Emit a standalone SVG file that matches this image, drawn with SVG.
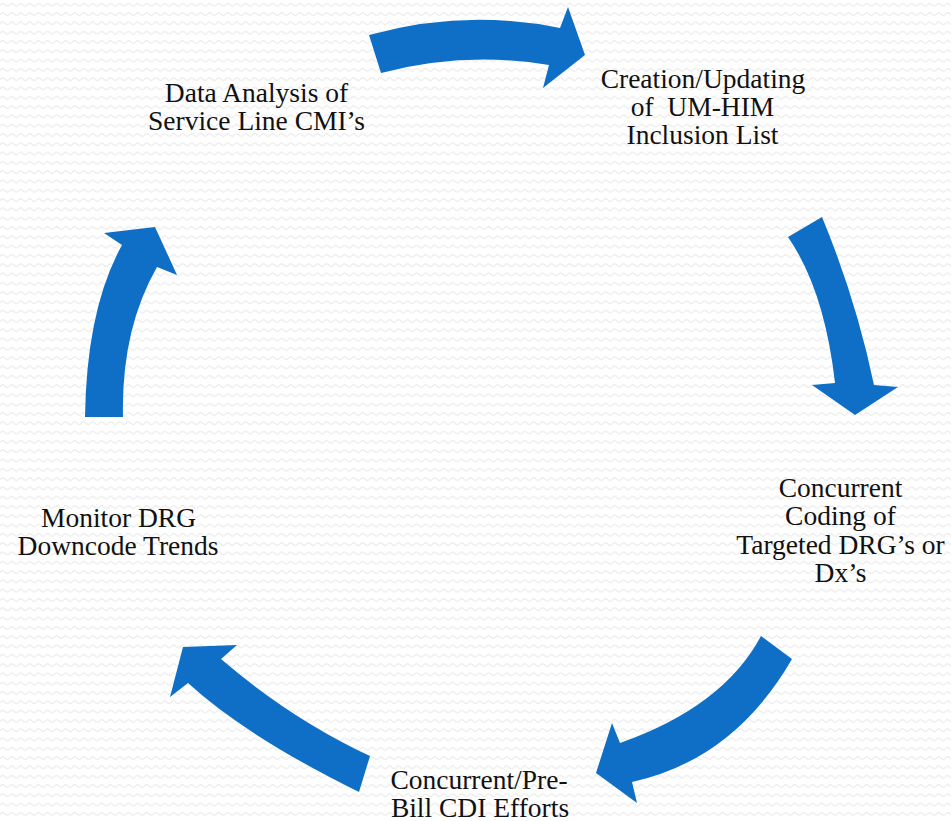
<svg xmlns="http://www.w3.org/2000/svg" width="951" height="821" viewBox="0 0 951 821">
  <defs>
    <pattern id="zig" x="0" y="0" width="9" height="9.3" patternUnits="userSpaceOnUse">
      <path d="M0,5.5 Q2.25,2 4.5,4.5 Q6.75,7 9,5.5" fill="none" stroke="#ededed" stroke-width="1.3"/>
    </pattern>
    <style>
      .arrow { fill: #0F6FC6; stroke: none; }
      .label { font-family: "Liberation Serif", "Times New Roman", serif; font-size: 27.5px; fill: #111111; text-anchor: middle; }
    </style>
  </defs>
  <rect x="0" y="0" width="951" height="821" fill="#ffffff"/>
  <rect x="0" y="0" width="951" height="821" fill="url(#zig)"/>

  <g id="connectors">
    <path id="arrow-top" class="arrow" d="M369,35 Q465,8.5 560,28 L568,7 L585,55 L543,88 L549,65 Q465,51 381,73 Z"/>
    <path id="arrow-right" class="arrow" d="M788,237 L822,217 Q856,299 874,385 L898,387 L855,415 L812,385 L835,383 Q824.5,290 788,237 Z"/>
    <path id="arrow-bottom-right" class="arrow" d="M761,636 L792,659 Q734,759.5 632,782 L637,803 L596,773 L612,723 L620,743 Q723.5,706.5 761,636 Z"/>
    <path id="arrow-bottom-left" class="arrow" d="M370,756 Q291,719 221,659 L237,645 L183,647 L170,697 L188,683 Q246.5,736.5 359,792 Z"/>
    <path id="arrow-left" class="arrow" d="M85,417 Q86.5,309 122,245 L104,233 L155,227 L177,275 L157,267 Q121,330 123,417 Z"/>
  </g>

  <g id="node-data-analysis">
    <text class="label" x="256.5" y="101.5">Data Analysis of</text>
    <text class="label" x="256.5" y="129.5">Service Line CMI’s</text>
  </g>
  <g id="node-creation">
    <text class="label" x="703" y="88">Creation/Updating</text>
    <text class="label" x="702.5" y="116" xml:space="preserve">of  UM-HIM</text>
    <text class="label" x="702.5" y="144">Inclusion List</text>
  </g>
  <g id="node-concurrent-coding">
    <text class="label" x="840.5" y="497">Concurrent</text>
    <text class="label" x="840.5" y="525">Coding of</text>
    <text class="label" x="840.5" y="553.5">Targeted DRG’s or</text>
    <text class="label" x="840.5" y="581.5">Dx’s</text>
  </g>
  <g id="node-cdi">
    <text class="label" x="479" y="788.5">Concurrent/Pre-</text>
    <text class="label" x="480" y="816.5">Bill CDI Efforts</text>
  </g>
  <g id="node-monitor">
    <text class="label" x="118.5" y="527">Monitor DRG</text>
    <text class="label" x="118" y="555">Downcode Trends</text>
  </g>
</svg>
